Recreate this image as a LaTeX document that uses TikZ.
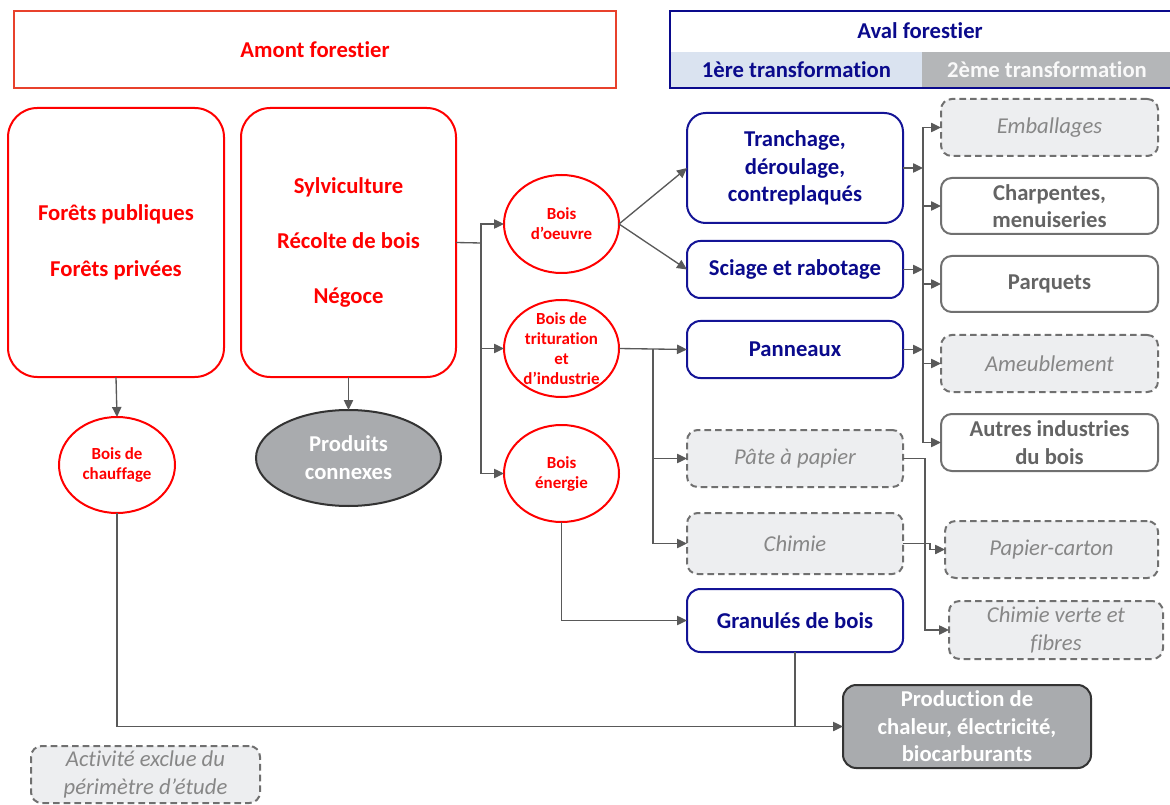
\documentclass[tikz,border=0pt]{standalone}
\usepackage{fontspec}
\setmainfont{Carlito}[Ligatures=NoCommon]

\usetikzlibrary{arrows.meta,shapes.geometric}

\definecolor{amborder}{RGB}{232,65,44}
\definecolor{navy}{RGB}{10,10,140}
\definecolor{navyb}{RGB}{20,20,150}
\definecolor{lblue}{RGB}{218,227,240}
\definecolor{hgray}{RGB}{180,182,184}
\definecolor{dgray}{RGB}{100,100,100}
\definecolor{bgray}{RGB}{112,112,112}
\definecolor{dfill}{RGB}{237,238,240}
\definecolor{itgray}{RGB}{135,135,135}
\definecolor{arrgray}{RGB}{89,89,89}
\definecolor{ellfill}{RGB}{169,171,174}

\newcommand\mainf{\fontsize{17}{20.6}\selectfont\bfseries}
\newcommand\itf{\fontsize{17}{21}\selectfont\itshape}
\newcommand\smallf{\fontsize{12.7}{15}\selectfont\bfseries}

\begin{document}
\begin{tikzpicture}[x=0.75pt,y=-0.75pt,
  every node/.style={inner sep=0pt, outer sep=0pt, align=center},
  wh/.style 2 args={minimum width=#1*0.75pt, minimum height=#2*0.75pt},
  redbox/.style={rectangle, draw=red, line width=1.5pt, rounded corners=22pt, text=red, font=\mainf},
  ell/.style={ellipse, draw=red, line width=1.5pt},
  ctext/.style={text=red, font=\smallf},
  bluebox/.style={rectangle, draw=navyb, line width=1.5pt, rounded corners=10pt, text=navy, font=\mainf},
  dashbox/.style={rectangle, draw=bgray, fill=dfill, line width=1.5pt, dash pattern=on 5pt off 3pt, rounded corners=8pt, text=itgray, font=\itf},
  graybox/.style={rectangle, draw=bgray, line width=1.5pt, rounded corners=8pt, text=dgray, font=\mainf},
  darkbox/.style={rectangle, draw=black!80, fill=ellfill, line width=1.5pt, rounded corners=10pt, text=white, font=\mainf},
  arr/.style={draw=arrgray, line width=1pt, -{Triangle[length=7.5pt,width=7pt]}},
  ln/.style={draw=arrgray, line width=1pt}
]
\useasboundingbox (0,0) rectangle (1170,805);

% Header
\node[wh={602}{77}, draw=amborder, line width=2.2pt, text=red, font=\mainf] (amont) at (315,49.5) {Amont forestier};
\node[wh={251}{36}, fill=lblue, text=navy, font=\mainf] (t1) at (796.5,70) {1ère transformation};
\node[wh={250}{36}, fill=hgray, text=white!95!gray, font=\mainf] (t2) at (1047,70) {2ème transformation};
\node[text=navy, font=\mainf] (avaltxt) at (920,31) {Aval forestier};
\node[wh={502}{77}, draw=navy, line width=1.5pt] (aval) at (921,49.5) {};

% Amont
\node[redbox, wh={216}{269}] (foret) at (116,242.5) {Forêts publiques\\[21pt]Forêts privées};
\node[redbox, wh={215}{269}] (sylvi) at (348.5,242.5) {Sylviculture\\[21pt]Récolte de bois\\[21pt]Négoce};

\node[ell, wh={116}{96}] (chauff) at (117,465) {};
\node[ctext] (chaufft) at (chauff) {Bois de\\chauffage};
\node[ellipse, wh={185}{96}, fill=ellfill, draw=black!80, line width=1.5pt, text=white, font=\fontsize{17}{21}\selectfont\bfseries] (prod) at (348.5,458) {Produits\\connexes};

\node[ell, wh={115}{98}] (oeuvre) at (561.5,224) {};
\node[ctext] (oeuvret) at (oeuvre) {Bois\\d’oeuvre};
\node[ell, wh={115}{97}] (tritur) at (561.5,348.5) {};
\node[ctext] (tritutt) at (tritur) {Bois de\\trituration\\et\\d’industrie};
\node[ell, wh={115}{97}] (energie) at (561.5,473.5) {};
\node[ctext] (energiet) at (energie) {Bois\\énergie};

% 1ere transformation
\node[bluebox, wh={216}{110}, rounded corners=14pt] (tranch) at (795,168) {Tranchage,\\déroulage,\\contreplaqués};
\node[bluebox, wh={216}{57}] (sciage) at (795,269.5) {Sciage et rabotage};
\node[bluebox, wh={216}{57}] (pann) at (795,349.5) {Panneaux};
\node[dashbox, wh={216}{57}] (pate) at (795,458.5) {Pâte à papier};
\node[dashbox, wh={216}{61}] (chimie) at (795,543.5) {Chimie};
\node[bluebox, wh={216}{63}] (granul) at (795,620.5) {Granulés de bois};

% 2eme transformation
\node[dashbox, wh={217}{57}] (emb) at (1049.5,127.5) {Emballages};
\node[graybox, wh={217}{56}] (charp) at (1049.5,206) {Charpentes,\\menuiseries};
\node[graybox, wh={217}{56}] (parq) at (1049.5,284) {Parquets};
\node[dashbox, wh={217}{57}] (meub) at (1049.5,363.5) {Ameublement};
\node[graybox, wh={217}{57}] (autres) at (1049.5,442.5) {Autres industries\\du bois};
\node[dashbox, wh={213}{57}] (papier) at (1051.5,549.5) {Papier-carton};
\node[dashbox, wh={214}{58}] (chverte) at (1056,630) {Chimie verte et\\fibres};

\node[darkbox, wh={248}{83}] (chaleur) at (967,726.5) {Production de\\chaleur, électricité,\\biocarburants};
\node[dashbox, wh={229}{57}, font=\fontsize{17}{21}\selectfont\itshape] (exclue) at (145.5,774.5) {Activité exclue du\\périmètre d’étude};

% Connectors
\draw[arr] (foret.south) -- (chauff.north);
\draw[arr] (sylvi.south) -- (prod.north);

\coordinate (b1) at (481,243);
\draw[ln] (sylvi.east) -- (b1);
\draw[arr] (b1) |- (oeuvre.west);
\draw[arr] (b1) |- (tritur.west);
\draw[arr] (b1) |- (energie.west);

\draw[arr] (oeuvre.east) -- (tranch.west);
\draw[arr] (oeuvre.east) -- (sciage.west);
\draw[arr] (tritur.east) -- (pann.west);
\coordinate (b2) at (653,349);
\draw[arr] (b2) |- (pate.west);
\draw[arr] (b2) |- (chimie.west);
\draw[arr] (energie.south) |- (granul.west);

\coordinate (bt) at (923,127.5);
\coordinate (bb) at (923,442.5);
\draw[ln] (bt) -- (bb);
\draw[arr] (bt) -- (emb.west);
\draw[arr] (charp.west -| bt) -- (charp.west);
\draw[arr] (parq.west -| bt) -- (parq.west);
\draw[arr] (meub.west -| bt) -- (meub.west);
\draw[arr] (bb) -- (autres.west);
\draw[arr] (tranch.east) -- (tranch.east -| bt);
\draw[arr] (sciage.east) -- (sciage.east -| bt);
\draw[arr] (pann.east) -- (pann.east -| bt);

\draw[arr] (pate.east) -- ++(22,0) |- (chverte.west);
\draw[arr] (chimie.east) -- ++(27,0) |- (papier.west);

\draw[ln] (granul.south) -- (granul.south |- chaleur.west);
\draw[arr] (chauff.south) |- (chaleur.west);
\end{tikzpicture}
\end{document}
